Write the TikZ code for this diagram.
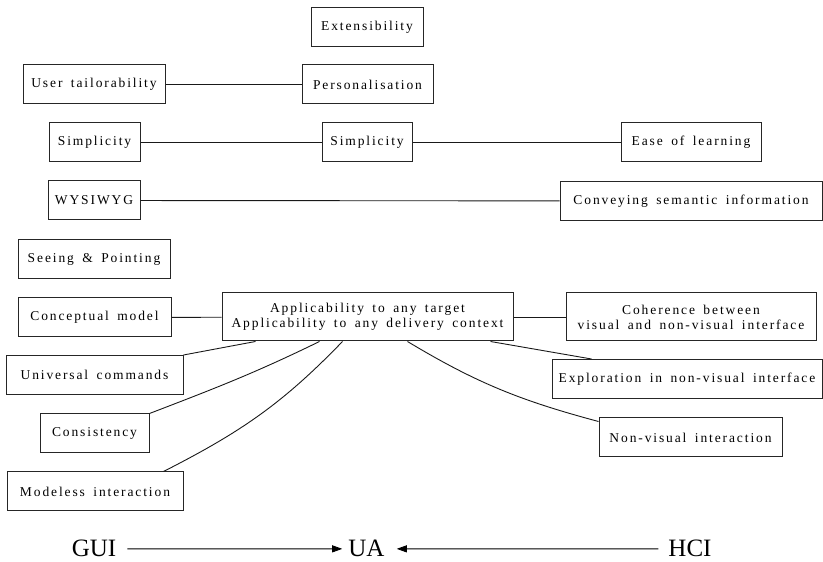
\documentclass[tikz,border=0pt]{standalone}
\usepackage{fontspec}
\setmainfont{Liberation Serif}
\newfontfamily\boxfont[LetterSpace=14,WordSpace=1.6]{Liberation Serif}
\usetikzlibrary{arrows.meta,calc}
\tikzset{
  box/.style={draw=black!85, line width=1pt, font=\boxfont\fontsize{13.5}{15}\selectfont,
    minimum height=39pt, inner xsep=3pt, inner ysep=3pt, align=center},
  tall/.style={minimum height=48pt},
  link/.style={line width=0.9pt, black!90},
  field/.style={font=\fontsize{25}{30}\selectfont, inner sep=0pt, anchor=base},
  flow/.style={line width=0.9pt, -{Triangle[length=10pt,width=7pt]}}
}
\begin{document}
\begin{tikzpicture}[x=1pt,y=1pt]
\useasboundingbox (0,0) rectangle (823,562);

% left column
\node[box, minimum width=142pt] (usr)  at (94,477.5)  {User tailorability};
\node[box, minimum width=91pt]  (simL) at (94.5,419.5) {Simplicity};
\node[box, minimum width=92pt]  (wys)  at (94,361.5)  {WYSIWYG};
\node[box, minimum width=152pt] (see)  at (94,303)    {Seeing \& Pointing};
\node[box, minimum width=153pt] (con)  at (94.5,244.5) {Conceptual model};
\node[box, minimum width=177pt] (uni)  at (94.5,187)  {Universal commands};
\node[box, minimum width=109pt] (cst)  at (94.5,128.5) {Consistency};
\node[box, minimum width=176pt] (mdl)  at (95,70.5)   {Modeless interaction};

% middle column
\node[box, minimum width=112pt] (ext)  at (367,535)   {Extensibility};
\node[box, minimum width=131pt] (per)  at (367.5,477.5) {Personalisation};
\node[box, minimum width=90pt]  (simM) at (367,419.5) {Simplicity};
\node[box, tall, minimum width=291pt] (app) at (367.5,245)
  {Applicability to any target\\Applicability to any delivery context};

% right column
\node[box, minimum width=140pt] (eas)  at (691,419.5) {Ease of learning};
\node[box, minimum width=262pt] (cnv)  at (691,361)   {Conveying semantic information};
\node[box, tall, minimum width=250pt] (coh) at (691,245)
  {Coherence between\\visual and non-visual interface};
\node[box, minimum width=270pt] (exp)  at (687,183)   {Exploration in non-visual interface};
\node[box, minimum width=183pt] (nvi)  at (690.5,124.5) {Non-visual interaction};

% horizontal links
\draw[link] (usr) -- (per);
\draw[link] (simL) -- (simM);
\draw[link] (simM) -- (eas);
\draw[link] (wys) -- (cnv);
\draw[link] (con) -- (app);
\draw[link] (app) -- (coh);

% links fanning out below the central box
\draw[link] (uni.north east) -- ($(app.south west)+(34,0)$);
\draw[link] (cst.north east) to[out=21,in=206] ($(app.south west)+(98,0)$);
\draw[link] ($(mdl.north east)+(-20,0)$) to[out=27,in=226] ($(app.south west)+(121,0)$);
\draw[link] ($(app.south east)+(-23,0)$) -- ($(exp.north west)+(40,0)$);
\draw[link] ($(app.south west)+(186,0)$) to[out=-31,in=165] ($(nvi.north west)+(0,-4)$);

% bottom line of fields
\node[field] (gui) at (94,5)    {GUI};
\node[field] (ua)  at (366.5,5) {UA};
\node[field] (hci) at (690,5)   {HCI};
\draw[flow, shorten <=11pt, shorten >=6pt] (gui.east) -- (ua.west);
\draw[flow, shorten <=10pt, shorten >=12pt] (hci.west) -- (ua.east);
\end{tikzpicture}
\end{document}
